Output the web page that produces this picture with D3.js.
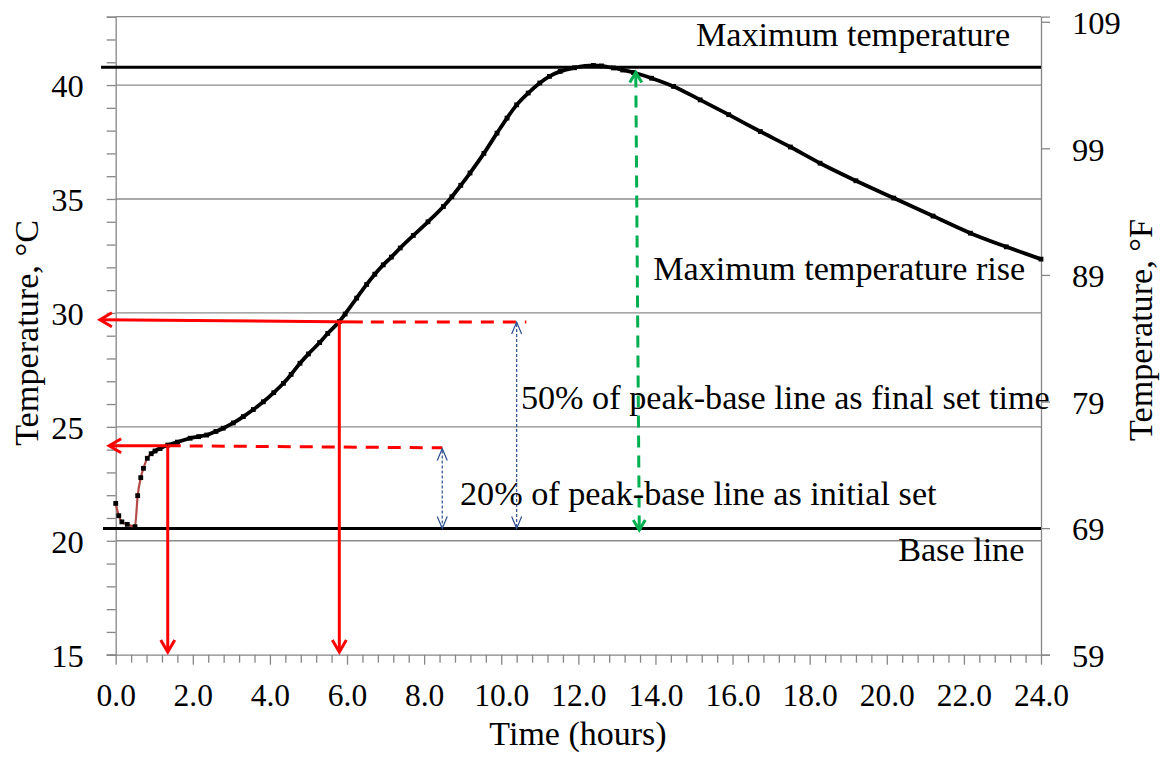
<!DOCTYPE html>
<html>
<head>
<meta charset="utf-8">
<script src="https://cdn.jsdelivr.net/npm/d3@7"></script>
<style>
  html, body { margin: 0; padding: 0; background: #fff; }
  svg { display: block; font-family: "Liberation Serif", "Times New Roman", serif; }
</style>
</head>
<body>
<svg id="chart" width="1164" height="757"></svg>
<script>
// ---------------- data ----------------
const timeHours = [0.0, 0.08, 0.16, 0.3, 0.5, 0.57, 0.65, 0.72, 0.82, 0.92, 1.02, 1.15, 1.35, 1.6, 1.93, 2.15, 2.36, 2.6, 2.79, 3.05, 3.31, 3.57, 3.83, 4.1, 4.35, 4.55, 4.78, 5.0, 5.29, 5.5, 5.8, 5.95, 6.25, 6.51, 6.72, 6.94, 7.15, 7.38, 7.72, 8.1, 8.5, 8.72, 8.95, 9.19, 9.55, 9.89, 10.15, 10.4, 10.7, 11.0, 11.25, 11.53, 11.9, 12.39, 12.6, 12.91, 13.15, 13.43, 13.9, 14.47, 15.16, 15.9, 16.72, 17.5, 18.27, 19.2, 20.18, 21.2, 22.17, 23.1, 24.0];
const tempC = [21.64, 21.1, 20.83, 20.72, 20.62, 21.98, 22.77, 23.18, 23.62, 23.82, 23.94, 24.05, 24.2, 24.33, 24.5, 24.57, 24.64, 24.8, 24.94, 25.17, 25.45, 25.76, 26.1, 26.5, 26.91, 27.3, 27.79, 28.2, 28.7, 29.1, 29.62, 29.95, 30.65, 31.25, 31.7, 32.11, 32.45, 32.85, 33.4, 34.0, 34.67, 35.1, 35.6, 36.14, 37.0, 37.89, 38.55, 39.13, 39.65, 40.09, 40.38, 40.6, 40.76, 40.86, 40.84, 40.75, 40.66, 40.55, 40.3, 39.94, 39.35, 38.7, 37.96, 37.28, 36.57, 35.8, 35.04, 34.25, 33.5, 32.9, 32.36];

const xTickLabels = ["0.0","2.0","4.0","6.0","8.0","10.0","12.0","14.0","16.0","18.0","20.0","22.0","24.0"];
const xTickValues = [0,2,4,6,8,10,12,14,16,18,20,22,24];
const yLeftTicks = [15, 20, 25, 30, 35, 40];
const yRightTicks = [59, 69, 79, 89, 99, 109];

const maxTemp = 40.78;
const baseTemp = 20.54;
// initial set (20%) construction
const initLevel = 24.17, initDashLevel = 24.08, initTime = 1.35, initDashEnd = 8.47, initArrowTip = -0.17;
// final set (50%) construction
const finalLevel = 29.7, finalDashLevel = 29.6, finalTime = 5.8, finalSolidEnd = 6.41, finalDashEnd = 10.65, finalArrowTip = -0.41;
const arrowBottom = 15.12;
const riseTimeTop = 13.49, riseTimeBottom = 13.58, riseTop = 40.55, riseBottom = 20.47;
const blueArrowTimes = [8.47, 10.4];
const blueArrowTops = [24.05, 29.6];

const annotations = [
  { text: "Maximum temperature", t: 15.05, T: 41.71, anchor: "start" },
  { text: "Maximum temperature rise", t: 13.94, T: 31.44, anchor: "start" },
  { text: "50% of peak-base line as final set time", t: 10.51, T: 25.8, anchor: "start" },
  { text: "20% of peak-base line as initial set", t: 8.93, T: 21.58, anchor: "start" },
  { text: "Base line", t: 23.57, T: 19.1, anchor: "end" }
];

// ---------------- layout ----------------
const svg = d3.select("#chart");
const pLeft = 115.7, pRight = 1041, pTop = 16.7, pBottom = 654.7;
const x = d3.scaleLinear().domain([0, 24]).range([pLeft, pRight]);
const y = d3.scaleLinear().domain([15, 43]).range([pBottom, pTop]);
const yF = d3.scaleLinear().domain([59, 43 * 9 / 5 + 32]).range([pBottom, pTop]);

const axisGray = "#868686";
const gridGray = "#8c8c8c";
const FS = 34.2;   // annotation / title font
const YFS = 32.5;  // y tick label font
const XFS = 31.5;  // x tick label font

// gridlines
svg.append("g").selectAll("line").data(yLeftTicks.filter(v => v > 15).concat([43])).join("line")
  .attr("x1", pLeft).attr("x2", pRight)
  .attr("y1", d => y(d)).attr("y2", d => y(d))
  .attr("stroke", gridGray).attr("stroke-width", 1.3);

// left axis
const leftAxis = d3.axisLeft(y).tickValues(d3.range(15, 44, 1)).tickSize(9)
  .tickFormat(d => yLeftTicks.includes(d) ? String(d) : "").tickPadding(23);
const gL = svg.append("g").attr("transform", `translate(${pLeft},0)`).call(leftAxis);
gL.select(".domain").attr("stroke", axisGray).attr("stroke-width", 1.3);
gL.selectAll(".tick line").attr("stroke", axisGray).attr("stroke-width", 1.3);
gL.selectAll(".tick text").attr("font-size", YFS).attr("font-family", "Liberation Serif").attr("fill", "#000").attr("dy", "0.36em");

// right axis
const rightAxis = d3.axisRight(yF).tickValues(yRightTicks).tickSize(9).tickPadding(22).tickFormat(d => String(d));
const gR = svg.append("g").attr("transform", `translate(${pRight},0)`).call(rightAxis);
gR.select(".domain").attr("stroke", axisGray).attr("stroke-width", 1.3);
gR.selectAll(".tick line").attr("stroke", axisGray).attr("stroke-width", 1.3);
gR.selectAll(".tick text").attr("font-size", YFS).attr("font-family", "Liberation Serif").attr("fill", "#000").attr("dy", "0.36em");

// bottom axis: minor ticks
const minorTicks = d3.range(0, 24.001, 0.4).map(v => +v.toFixed(1)).filter(v => !xTickValues.includes(v));
const gBm = svg.append("g").attr("transform", `translate(0,${pBottom})`)
  .call(d3.axisBottom(x).tickValues(minorTicks).tickSize(8).tickFormat(""));
gBm.select(".domain").remove();
gBm.selectAll(".tick line").attr("stroke", axisGray).attr("stroke-width", 1.3);
const gB = svg.append("g").attr("transform", `translate(0,${pBottom})`)
  .call(d3.axisBottom(x).tickValues(xTickValues).tickSize(10).tickPadding(19)
    .tickFormat((d, i) => xTickLabels[i]));
gB.select(".domain").attr("stroke", axisGray).attr("stroke-width", 1.3)
  .attr("d", `M${pLeft - 9},0.5H${pRight}`);
gB.selectAll(".tick line").attr("stroke", axisGray).attr("stroke-width", 1.3);
gB.selectAll(".tick text").attr("font-size", XFS).attr("font-family", "Liberation Serif").attr("fill", "#000");

// axis titles
svg.append("text").attr("x", 578).attr("y", 745).attr("text-anchor", "middle")
  .attr("font-size", 34).text("Time (hours)");
svg.append("text").attr("transform", `translate(38,${y(29.12)}) rotate(-90)`).attr("text-anchor", "middle")
  .attr("font-size", FS).text("Temperature, °C");
svg.append("text").attr("transform", `translate(1152,${y(29.25)}) rotate(-90)`).attr("text-anchor", "middle")
  .attr("font-size", FS).text("Temperature, °F");

// reference lines
svg.append("line").attr("x1", x(-0.38)).attr("x2", pRight).attr("y1", y(maxTemp)).attr("y2", y(maxTemp))
  .attr("stroke", "#000").attr("stroke-width", 3);
svg.append("line").attr("x1", x(-0.33)).attr("x2", pRight).attr("y1", y(baseTemp)).attr("y2", y(baseTemp))
  .attr("stroke", "#000").attr("stroke-width", 3);

// data series
const pts = timeHours.map((t, i) => ({ t, T: tempC[i] }));
const line = d3.line().x(d => x(d.t)).y(d => y(d.T)).curve(d3.curveMonotoneX);
svg.append("path").datum(pts).attr("d", line).attr("fill", "none")
  .attr("stroke", "#b54a46").attr("stroke-width", 2.2);
svg.append("path").datum(pts.filter(d => d.t >= 0.9)).attr("d", line).attr("fill", "none")
  .attr("stroke", "#000").attr("stroke-width", 3.8);
svg.append("g").selectAll("rect").data(pts).join("rect")
  .attr("x", d => x(d.t) - 2.4).attr("y", d => y(d.T) - 2.4)
  .attr("width", 4.8).attr("height", 4.8).attr("fill", "#000");

// arrow helpers (open V heads)
function vHead(g, tipX, tipY, dir, len, half, color, width) {
  const [dx, dy] = dir;
  const bx = tipX - dx * len, by = tipY - dy * len;
  const px = -dy, py = dx;
  g.append("path")
    .attr("d", `M${bx + px * half},${by + py * half}L${tipX},${tipY}L${bx - px * half},${by - py * half}`)
    .attr("fill", "none").attr("stroke", color).attr("stroke-width", width)
    .attr("stroke-linejoin", "miter");
}
const ann = svg.append("g");
const red = "#ff0000";

// initial set
ann.append("line").attr("x1", x(initTime)).attr("x2", x(initArrowTip) + 1)
  .attr("y1", y(initLevel)).attr("y2", y(initLevel)).attr("stroke", red).attr("stroke-width", 3);
vHead(ann, x(initArrowTip), y(initLevel), [-1, 0], 12, 7, red, 3);
ann.append("line").attr("x1", x(initTime)).attr("x2", x(initDashEnd))
  .attr("y1", y(initLevel)).attr("y2", y(initDashLevel)).attr("stroke", red).attr("stroke-width", 3)
  .attr("stroke-dasharray", "13,9");
ann.append("line").attr("x1", x(initTime)).attr("x2", x(initTime))
  .attr("y1", y(initLevel)).attr("y2", y(arrowBottom) - 1).attr("stroke", red).attr("stroke-width", 3);
vHead(ann, x(initTime), y(arrowBottom), [0, 1], 12, 7, red, 3);

// final set
ann.append("line").attr("x1", x(finalSolidEnd)).attr("x2", x(finalArrowTip) + 1)
  .attr("y1", y(finalDashLevel)).attr("y2", y(finalLevel)).attr("stroke", red).attr("stroke-width", 3);
vHead(ann, x(finalArrowTip), y(finalLevel), [-1, 0], 12, 7, red, 3);
ann.append("line").attr("x1", x(finalSolidEnd) + 8).attr("x2", x(finalDashEnd))
  .attr("y1", y(finalDashLevel)).attr("y2", y(finalDashLevel)).attr("stroke", red).attr("stroke-width", 3)
  .attr("stroke-dasharray", "13,9");
ann.append("line").attr("x1", x(finalTime)).attr("x2", x(finalTime))
  .attr("y1", y(finalDashLevel)).attr("y2", y(arrowBottom) - 1).attr("stroke", red).attr("stroke-width", 3);
vHead(ann, x(finalTime), y(arrowBottom), [0, 1], 12, 7, red, 3);

// blue double arrows
const blue = "#2a4d8f";
blueArrowTimes.forEach((t, i) => {
  const topY = y(blueArrowTops[i]), botY = y(baseTemp);
  ann.append("line").attr("x1", x(t)).attr("x2", x(t)).attr("y1", topY + 2).attr("y2", botY - 2)
    .attr("stroke", blue).attr("stroke-width", 1.2).attr("stroke-dasharray", "3,2");
  vHead(ann, x(t), topY, [0, -1], 12, 5, blue, 1.2);
  vHead(ann, x(t), botY, [0, 1], 12, 5, blue, 1.2);
});

// green double arrow
const green = "#00b050";
ann.append("line").attr("x1", x(riseTimeTop)).attr("x2", x(riseTimeBottom))
  .attr("y1", y(riseTop) + 3).attr("y2", y(riseBottom) - 3)
  .attr("stroke", green).attr("stroke-width", 3).attr("stroke-dasharray", "12,8");
vHead(ann, x(riseTimeTop), y(riseTop), [0, -1], 10, 6, green, 3);
vHead(ann, x(riseTimeBottom), y(riseBottom), [0, 1], 10, 6, green, 3);

// annotation texts
svg.append("g").selectAll("text").data(annotations).join("text")
  .attr("x", d => x(d.t)).attr("y", d => y(d.T))
  .attr("text-anchor", d => d.anchor).attr("font-size", FS).attr("fill", "#000")
  .text(d => d.text);
</script>
</body>
</html>
